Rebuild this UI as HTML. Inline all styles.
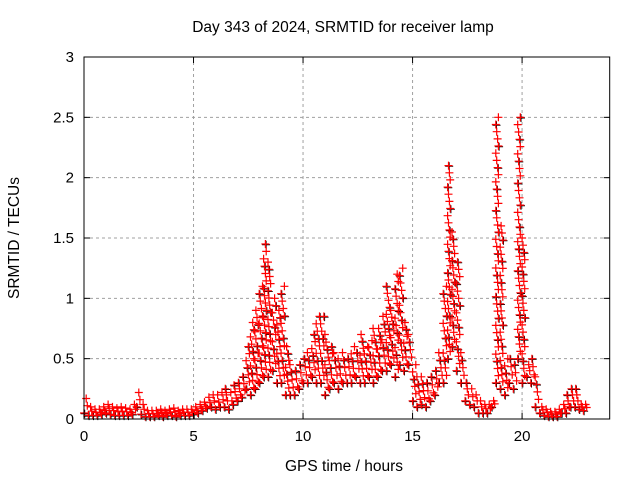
<!DOCTYPE html>
<html><head><meta charset="utf-8"><style>
body{margin:0;background:#fff;}
svg{display:block;font-family:"Liberation Sans",sans-serif;}
</style></head><body>
<svg id="chart" width="640" height="480" xmlns="http://www.w3.org/2000/svg">
<rect width="640" height="480" fill="#fff"/>
<text x="343" y="32" font-size="15.5" text-anchor="middle">Day 343 of 2024, SRMTID for receiver lamp</text>
<text transform="translate(19,238) rotate(-90)" font-size="15.5" text-anchor="middle">SRMTID / TECUs</text>
<text x="344" y="471" font-size="15.5" text-anchor="middle">GPS time / hours</text>
<g id="grid"></g><g id="marks"></g><g id="axes"></g>
</svg>
<script>
const xTicks=[0,5,10,15,20];
const yTicks=[0,0.5,1,1.5,2,2.5,3];
const yTickLabels=["0","0.5","1","1.5","2","2.5","3"];
const times=[];for(let i=0;i<115;i++)times.push(+(i*0.2).toFixed(1));
const lo=[.05,.03,.03,.03,.04,.05,.04,.03,.03,.03,.03,.04,.1,.04,.02,.02,.02,.03,.02,.03,.03,.02,.03,.03,.03,.04,.05,.07,.09,.1,.08,.1,.1,.08,.12,.15,.18,.25,.2,.25,.3,.35,.35,.4,.3,.3,.2,.2,.2,.25,.3,.3,.35,.3,.3,.2,.25,.3,.25,.3,.3,.3,.35,.3,.3,.35,.3,.35,.4,.4,.45,.35,.45,.4,.45,.15,.1,.12,.1,.15,.2,.3,.3,.5,.6,.4,.3,.15,.12,.1,.05,.05,.05,.1,.3,.25,.2,.3,.25,.5,.3,.35,.3,.1,.05,.03,.02,.02,.02,.05,.05,.1,.1,.08,.07];
const hi=[.17,.1,.08,.08,.1,.12,.1,.09,.1,.09,.08,.12,.22,.12,.07,.07,.07,.08,.07,.08,.09,.07,.08,.08,.08,.1,.12,.14,.18,.2,.2,.22,.25,.22,.28,.3,.35,.6,.8,.9,1.1,1.45,1.3,1.0,.9,1.1,.6,.45,.4,.45,.5,.55,.7,.85,.85,.7,.6,.55,.5,.55,.5,.6,.55,.7,.6,.65,.75,.75,.85,1.1,.9,1.2,1.25,.8,.7,.45,.35,.35,.3,.35,.4,.55,1.1,2.1,1.55,1.3,.55,.3,.25,.2,.15,.12,.12,.15,2.5,1.6,.5,.5,.45,2.5,1.5,.45,.5,.35,.1,.08,.06,.06,.08,.12,.2,.25,.25,.12,.12];
const X0=84,X1=609.7,Y0=419,Y1=57;
const xs=t=>X0+(t/24)*(X1-X0);
const ys=v=>Y0-(v/3)*(Y0-Y1);
const NS="http://www.w3.org/2000/svg";
function mk(tag,attrs,parent){const e=document.createElementNS(NS,tag);for(const k in attrs)e.setAttribute(k,attrs[k]);parent.appendChild(e);return e;}
const grid=document.getElementById('grid'),axes=document.getElementById('axes'),marks=document.getElementById('marks');
yTicks.forEach((v,i)=>{const y=ys(v);
 if(v>0&&v<3){const g=mk('line',{x1:X0,x2:X1,y1:y,y2:y,stroke:'#a0a0a0','stroke-dasharray':'3,3'},grid);
 
 }
 mk('line',{x1:X0,x2:X0+6,y1:y,y2:y,stroke:'#000'},axes);
 mk('line',{x1:X1,x2:X1-6,y1:y,y2:y,stroke:'#000'},axes);
 const t=mk('text',{x:X0-10,y:y+5,'font-size':15,'text-anchor':'end'},axes);t.textContent=yTickLabels[i];
 
 
});
xTicks.forEach(v=>{const x=xs(v);
 if(v>0){const g=mk('line',{x1:x,x2:x,y1:Y0,y2:Y1,stroke:'#a0a0a0','stroke-dasharray':'3,3'},grid);
 
 }
 mk('line',{x1:x,x2:x,y1:Y0,y2:Y0-6,stroke:'#000'},axes);
 mk('line',{x1:x,x2:x,y1:Y1,y2:Y1+6,stroke:'#000'},axes);
 const t=mk('text',{x:x,y:Y0+22,'font-size':15,'text-anchor':'middle'},axes);t.textContent=String(v);
 
 
});
const frame=mk('rect',{x:X0,y:Y1,width:X1-X0,height:Y0-Y1,fill:'none',stroke:'#000'},axes);


function plus(x,y){return `M${(x-4).toFixed(1)},${y.toFixed(1)}h8M${x.toFixed(1)},${(y-4).toFixed(1)}v8`;}
let dBlack='',dRed='';
times.forEach((t,i)=>{
 const a=lo[i],b=hi[i];const n=Math.max(3,Math.round((b-a)/0.06)+1);
 const spread=(b-a)>0.9?0.04:0.05;
 for(let k=0;k<n;k++){
  const v=a+(b-a)*k/(n-1);
  const tt=t+((k*3)%4)*spread;
  const x=xs(tt),y=ys(v);
  if(k%3===0)dBlack+=plus(x+0.7,y+0.7);
  dRed+=plus(x,y);
 }
});
const pb=mk('path',{d:dBlack,stroke:'#000','stroke-width':1,fill:'none'},marks);


const pr=mk('path',{d:dRed,stroke:'#ff0000','stroke-width':1.2,fill:'none'},marks);


</script>
</body></html>
